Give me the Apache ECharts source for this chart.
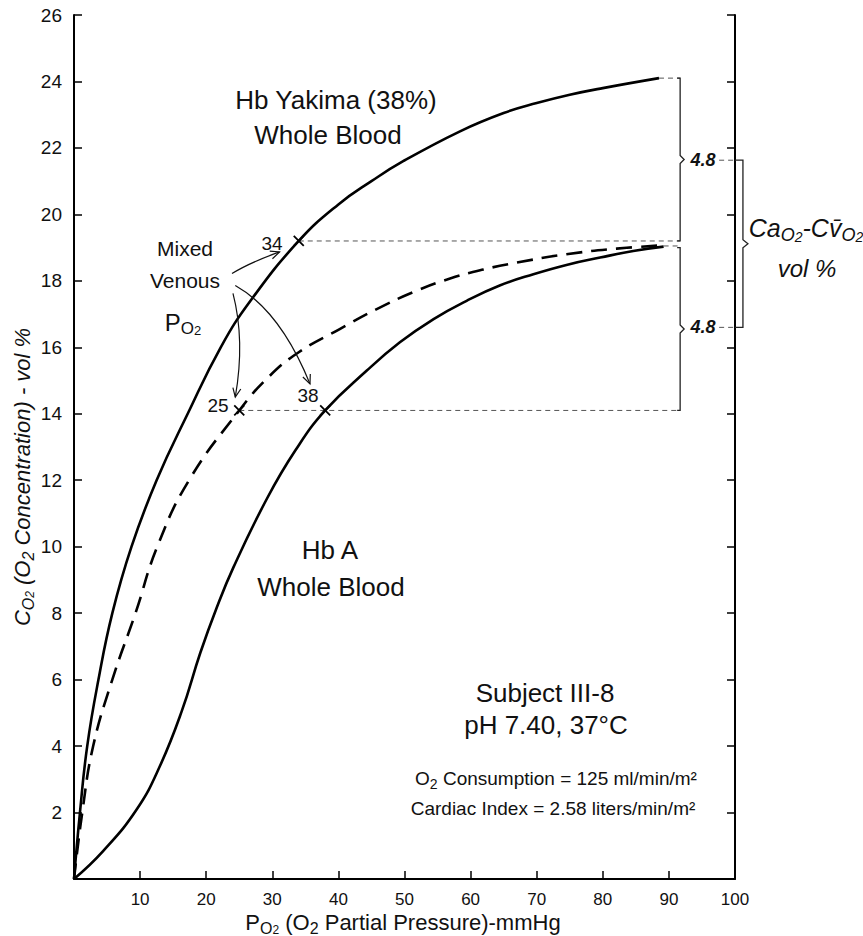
<!DOCTYPE html>
<html>
<head>
<meta charset="utf-8">
<title>O2 concentration vs PO2 - Hb Yakima</title>
<script src="https://cdn.jsdelivr.net/npm/echarts@6/dist/echarts.min.js"></script>
<style>
html, body { margin: 0; padding: 0; background: #fff; }
#chart { width: 863px; height: 936px; }
</style>
</head>
<body>
<div id="chart"></div>
<script>
// values: PO2 in mmHg, CO2 in vol %
var yakimaPO2 = [0, 0.9, 2.0, 3.7, 5.8, 8.7, 12.5, 17.2, 22.2, 26.7, 34, 40, 45, 49.8, 58.4, 65, 70, 75, 80, 88.5];
var yakimaCO2 = [0, 2, 4, 6, 8, 10, 12, 14, 16, 17.4, 19.2, 20.3, 21.0, 21.6, 22.5, 23.05, 23.35, 23.6, 23.8, 24.1];

var dashedPO2 = [0, 1.25, 2.9, 5.8, 9.3, 12.6, 17.4, 25, 29.4, 34, 40.2, 45.8, 51.8, 56.9, 61.9, 67, 74.5, 82.1, 89.2];
var dashedCO2 = [0, 2, 4, 6, 8, 10, 12, 14.1, 15.1, 15.85, 16.55, 17.15, 17.7, 18.07, 18.34, 18.55, 18.8, 18.97, 19.07];

var hbaPO2 = [0, 4.4, 9.5, 13, 16.3, 19.1, 21.6, 24.1, 29.2, 33.5, 38, 44.3, 49.3, 54.4, 59.4, 64.4, 69.5, 74.5, 79.6, 84.6, 89.2];
var hbaCO2 = [0, 0.84, 2.1, 3.4, 5.05, 6.8, 8.17, 9.37, 11.45, 12.9, 14.1, 15.3, 16.15, 16.85, 17.4, 17.86, 18.2, 18.48, 18.7, 18.9, 19.03];

// mixed venous points (x marks)
var venousPO2 = [34, 25, 38];
var venousCO2 = [19.2, 14.1, 14.1];

// dotted guide lines: from x, to x, at y
var guideFrom = [88.5, 34, 89.2, 25, 97.6, 97.6];
var guideTo = [91.7, 91.7, 91.7, 91.7, 100, 100];
var guideAt = [24.1, 19.2, 19.05, 14.1, 21.63, 16.6];

// small braces (4.8 each) and the big one
var braceX = [91.7, 91.7];
var braceTop = [24.1, 19.0];
var braceBottom = [19.2, 14.1];
var bigBrace = [[101.2, 21.63, 16.6]];

// arrows from "Mixed Venous PO2": start, control, end
var arrowData = [
    [23.9, 18.22, 26.6, 18.55, 31.1, 18.87],
    [24.05, 17.62, 25.9, 16.2, 24.4, 14.5],
    [24.4, 17.86, 31.2, 17.1, 35.7, 14.9]
];

var xTicks = [0, 10, 20, 30, 40, 50, 60, 70, 80, 90, 100];
var yTicks = [0, 2, 4, 6, 8, 10, 12, 14, 16, 18, 20, 22, 24, 26];

var FONT = 'Liberation Sans';

function zip(a, b) {
    var out = [];
    for (var i = 0; i < a.length; i++) {
        out.push([a[i], b[i]]);
    }
    return out;
}

function renderGuide(params, api) {
    var a = api.coord([api.value(0), api.value(2)]);
    var b = api.coord([api.value(1), api.value(2)]);
    return {
        type: 'line',
        shape: { x1: a[0], y1: a[1], x2: b[0], y2: b[1] },
        style: { stroke: '#555', lineWidth: 1, lineDash: [5, 4] }
    };
}

function makeBrace(serif, tip) {
    return function (params, api) {
        var t = api.coord([api.value(0), api.value(1)]);
        var b = api.coord([api.value(0), api.value(2)]);
        var x = t[0];
        var mid = (t[1] + b[1]) / 2;
        return {
            type: 'polyline',
            shape: {
                points: [[x - serif, t[1]], [x, t[1]], [x, mid - 4], [x + tip, mid],
                    [x, mid + 4], [x, b[1]], [x - serif, b[1]]]
            },
            style: { stroke: '#222', lineWidth: 1.3, fill: null }
        };
    };
}

function renderCross(params, api) {
    var p = api.coord([api.value(0), api.value(1)]);
    var r = 5;
    var st = { stroke: '#000', lineWidth: 1.8 };
    return {
        type: 'group',
        children: [
            { type: 'line', shape: { x1: p[0] - r, y1: p[1] - r, x2: p[0] + r, y2: p[1] + r }, style: st },
            { type: 'line', shape: { x1: p[0] - r, y1: p[1] + r, x2: p[0] + r, y2: p[1] - r }, style: st }
        ]
    };
}

function renderArrow(params, api) {
    var s = api.coord([api.value(0), api.value(1)]);
    var c = api.coord([api.value(2), api.value(3)]);
    var e = api.coord([api.value(4), api.value(5)]);
    var ang = Math.atan2(e[1] - c[1], e[0] - c[0]);
    var L = 9, W = 4;
    var p1 = [e[0] - L * Math.cos(ang) + W * Math.sin(ang), e[1] - L * Math.sin(ang) - W * Math.cos(ang)];
    var p2 = [e[0] - L * Math.cos(ang) - W * Math.sin(ang), e[1] - L * Math.sin(ang) + W * Math.cos(ang)];
    return {
        type: 'group',
        children: [
            { type: 'bezierCurve', shape: { x1: s[0], y1: s[1], cpx1: c[0], cpy1: c[1], x2: e[0], y2: e[1] },
              style: { stroke: '#111', lineWidth: 1.2, fill: null } },
            { type: 'polyline', shape: { points: [p1, e, p2] }, style: { stroke: '#111', lineWidth: 1.2, fill: null } }
        ]
    };
}

// subscript styles for rich text
function richSet(size, italic) {
    var r = {
        n: { fontSize: size, fontFamily: FONT, lineHeight: size + 6 },
        s: { fontSize: Math.round(size * 0.72), fontFamily: FONT, verticalAlign: 'bottom', lineHeight: 12 },
        ss: { fontSize: Math.round(size * 0.55), fontFamily: FONT, verticalAlign: 'bottom', lineHeight: 3 }
    };
    if (italic) {
        r.n.fontStyle = r.s.fontStyle = r.ss.fontStyle = 'italic';
    }
    return r;
}

function label(x, y, text, size, extra) {
    var st = { text: text, x: x, y: y, fontSize: size, fontFamily: FONT, fill: '#111',
        align: 'center', verticalAlign: 'middle' };
    for (var k in extra) { st[k] = extra[k]; }
    return { type: 'text', style: st, z: 20 };
}

var chart = echarts.init(document.getElementById('chart'), null, { renderer: 'svg' });

var curveStyle = { showSymbol: false, smooth: 0.45, silent: true, z: 3 };

var option = {
    animation: false,
    backgroundColor: '#fff',
    grid: { left: 74, right: 128, top: 15, bottom: 57, containLabel: false, outerBoundsMode: 'none' },
    xAxis: {
        type: 'value', min: xTicks[0], max: xTicks[xTicks.length - 1], interval: 10,
        axisLine: { show: true, onZero: false, lineStyle: { color: '#000', width: 2 } },
        axisTick: { show: true, inside: true, length: 8, lineStyle: { color: '#000', width: 1.5 } },
        axisLabel: { margin: 12, fontSize: 17, fontFamily: FONT, color: '#111',
            formatter: function (v) { return v === 0 ? '' : String(v); } },
        splitLine: { show: false }
    },
    yAxis: [{
        type: 'value', min: yTicks[0], max: yTicks[yTicks.length - 1], interval: 2,
        axisLine: { show: true, onZero: false, lineStyle: { color: '#000', width: 2 } },
        axisTick: { show: true, inside: true, length: 8, lineStyle: { color: '#000', width: 1.5 } },
        axisLabel: { margin: 12, fontSize: 19, fontFamily: FONT, color: '#111',
            formatter: function (v) { return v === 0 ? '' : String(v); } },
        splitLine: { show: false }
    }, {
        type: 'value', position: 'right', min: yTicks[0], max: yTicks[yTicks.length - 1], interval: 2,
        axisLine: { show: true, onZero: false, lineStyle: { color: '#000', width: 2 } },
        axisTick: { show: true, inside: true, length: 8, lineStyle: { color: '#000', width: 1.5 } },
        axisLabel: { show: false },
        splitLine: { show: false }
    }],
    series: [
        Object.assign({
            name: 'Hb Yakima (38%) Whole Blood', type: 'line', data: zip(yakimaPO2, yakimaCO2),
            lineStyle: { color: '#000', width: 2.6 }
        }, curveStyle),
        Object.assign({
            name: 'dashed', type: 'line', data: zip(dashedPO2, dashedCO2),
            lineStyle: { color: '#000', width: 2.6, type: [16, 9] }
        }, curveStyle),
        Object.assign({
            name: 'Hb A Whole Blood', type: 'line', data: zip(hbaPO2, hbaCO2),
            lineStyle: { color: '#000', width: 2.6 }
        }, curveStyle),
        {
            name: 'guides', type: 'custom', renderItem: renderGuide, clip: false, silent: true, z: 2,
            data: guideFrom.map(function (v, i) { return [v, guideTo[i], guideAt[i]]; })
        }, {
            name: 'braces', type: 'custom', renderItem: makeBrace(3, 4), clip: false, silent: true, z: 2,
            data: braceX.map(function (v, i) { return [v, braceTop[i], braceBottom[i]]; })
        }, {
            name: 'bigBrace', type: 'custom', renderItem: makeBrace(8, 5), clip: false, silent: true, z: 2,
            data: bigBrace
        }, {
            name: 'venous', type: 'custom', renderItem: renderCross, clip: false, silent: true, z: 4,
            data: zip(venousPO2, venousCO2)
        }, {
            name: 'arrows', type: 'custom', renderItem: renderArrow, clip: false, silent: true, z: 4,
            data: arrowData
        }
    ],
    graphic: [
        label(336, 100, 'Hb Yakima (38%)', 26),
        label(328, 135, 'Whole Blood', 26),
        label(330, 550, 'Hb A', 26),
        label(331, 587, 'Whole Blood', 26),
        label(185, 248, 'Mixed', 21),
        label(185, 280, 'Venous', 21),
        label(183, 322, '{n|P}{s|O}{ss|2}', 24, { rich: richSet(24) }),
        label(272, 243, '34', 19),
        label(218, 405, '25', 19),
        label(308, 395, '38', 19),
        label(545, 693, 'Subject III-8', 26),
        label(546, 725, 'pH 7.40, 37°C', 26),
        label(556, 778, '{n|O}{s|2}{n| Consumption = 125 ml/min/m²}', 19, { rich: richSet(19) }),
        label(553, 808, 'Cardiac Index = 2.58 liters/min/m²', 19),
        label(703, 160, '4.8', 18, { fontStyle: 'italic', fontWeight: 'bold' }),
        label(703, 327, '4.8', 18, { fontStyle: 'italic', fontWeight: 'bold' }),
        label(806, 228, '{n|Ca}{s|O}{ss|2}{n|-Cv\u0304}{s|O}{ss|2}', 25,
            { fontStyle: 'italic', rich: richSet(25, true) }),
        label(807, 268, 'vol %', 24, { fontStyle: 'italic' }),
        {
            type: 'text', x: 22, y: 477, rotation: Math.PI / 2, z: 20,
            style: {
                text: '{n|C}{s|O}{ss|2}{n| (O}{s|2}{n| Concentration) - vol %}',
                align: 'center', verticalAlign: 'middle', fill: '#111', fontFamily: FONT, fontSize: 22, fontStyle: 'italic',
                rich: richSet(22, true)
            }
        },
        label(403, 922, '{n|P}{s|O}{ss|2}{n| (O}{s|2}{n| Partial Pressure)-mmHg}', 22, { rich: richSet(22) })
    ]
};

chart.setOption(option);
</script>
</body>
</html>
